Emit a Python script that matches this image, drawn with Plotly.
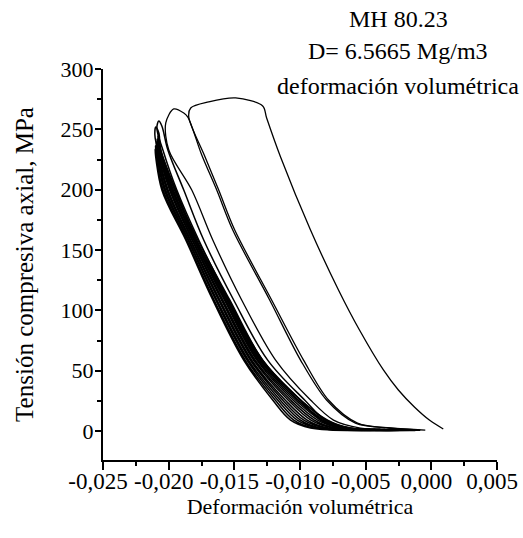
import plotly.graph_objects as go

# ---------------- data (volumetric strain, axial stress MPa) ----------------
x_tickvals = [-0.025, -0.020, -0.015, -0.010, -0.005, 0.000, 0.005]
x_ticktext = ["-0,025", "-0,020", "-0,015", "-0,010", "-0,005", "0,000", "0,005"]
y_tickvals = [0, 50, 100, 150, 200, 250, 300]
y_ticktext = ["0", "50", "100", "150", "200", "250", "300"]

# outermost cycle
loop_a_x = [-0.00046, -0.00312, -0.00562, -0.00783, -0.00973, -0.01216, -0.01497, -0.01619,
            -0.01729, -0.01847, -0.01832, -0.01695, -0.01490, -0.01284, -0.01254, -0.01148, -0.00920,
            -0.00707, -0.00547, -0.00365, -0.00251, -0.00129, -0.00015, 0.00091]
loop_a_y = [0.8, 2.5, 6.6, 25.7, 58.8, 108.6, 166.6, 199.7,
            228.7, 260.2, 267.7, 272.7, 276.0, 269.4, 259.4, 227.1, 166.6,
            116.9, 83.7, 50.6, 34.0, 19.9, 9.1, 1.7]

# second cycle
loop_b_x = [-0.00084, -0.00327, -0.00578, -0.00798, -0.00996, -0.01231, -0.01512, -0.01634,
            -0.01748, -0.01854, -0.01885, -0.01961, -0.02022, -0.01999, -0.01824, -0.01664,
            -0.01444, -0.01186, -0.00920, -0.00745, -0.00540, -0.00274, -0.00084]
loop_b_y = [0.8, 2.5, 6.6, 25.7, 58.8, 108.6, 166.6, 199.7,
            228.7, 260.2, 263.6, 266.9, 255.3, 232.9, 199.7, 158.3,
            108.6, 58.8, 25.7, 9.1, 2.5, 1.0, 0.5]

# third cycle
loop_c_x = [-0.00388, -0.00616, -0.00806, -0.00965, -0.01246, -0.01505, -0.01733, -0.01885,
            -0.02006, -0.02052, -0.02075, -0.02090, -0.02044, -0.01938, -0.01771, -0.01543,
            -0.01284, -0.00996, -0.00844, -0.00654, -0.00122]
loop_c_y = [1.2, 2.5, 9.1, 25.7, 58.8, 108.6, 158.3, 199.7,
            232.9, 252.8, 256.9, 251.1, 232.9, 199.7, 158.3, 108.6,
            58.8, 25.7, 9.1, 2.5, 0.5]

# fourth cycle
loop_d_x = [-0.00464, -0.00631, -0.00798, -0.00996, -0.01284, -0.01535, -0.01778, -0.01953,
            -0.02060, -0.02075, -0.02098, -0.02105, -0.02082, -0.01976, -0.01794, -0.01558,
            -0.01307, -0.01018, -0.00828, -0.00661, -0.00236]
loop_d_y = [1.5, 2.5, 9.1, 25.7, 58.8, 108.6, 158.3, 199.7,
            232.9, 247.0, 252.0, 245.3, 232.9, 199.7, 158.3, 108.6,
            58.8, 25.7, 9.1, 2.5, 0.6]

# later cycles (dense band)
band1_x = [-0.00502, -0.00892, -0.01047, -0.01189, -0.01417, -0.01654, -0.01862, -0.02042,
           -0.02104, -0.02052, -0.01870, -0.01664, -0.01429, -0.01208, -0.01072, -0.00920, -0.00448]
band1_y = [1.5, 2.5, 9.1, 25.7, 58.8, 108.6, 158.3, 199.7,
           233.5, 199.7, 158.3, 108.6, 58.8, 25.7, 9.1, 2.5, 0.6]

band2_x = [-0.00464, -0.00838, -0.00996, -0.01151, -0.01392, -0.01632, -0.01847, -0.02023, -0.02093,
           -0.02100, -0.02097, -0.02033, -0.01854, -0.01642, -0.01404, -0.01170, -0.01021, -0.00865, -0.00388]
band2_y = [1.5, 2.5, 9.1, 25.7, 58.8, 108.6, 158.3, 199.7, 232.9,
           236.5, 232.9, 199.7, 158.3, 108.6, 58.8, 25.7, 9.1, 2.5, 0.6]

band3_x = [-0.00426, -0.00783, -0.00945, -0.01113, -0.01367, -0.01610, -0.01832, -0.02004, -0.02085,
           -0.02094, -0.02088, -0.02014, -0.01839, -0.01620, -0.01379, -0.01132, -0.00971, -0.00810, -0.00350]
band3_y = [1.5, 2.5, 9.1, 25.7, 58.8, 108.6, 158.3, 199.7, 232.9,
           239.5, 232.9, 199.7, 158.3, 108.6, 58.8, 25.7, 9.1, 2.5, 0.6]

band4_x = [-0.00388, -0.00725, -0.00891, -0.01072, -0.01341, -0.01587, -0.01816, -0.01983, -0.02076,
           -0.02088, -0.02080, -0.01993, -0.01823, -0.01598, -0.01354, -0.01091, -0.00917, -0.00752, -0.00274]
band4_y = [1.5, 2.5, 9.1, 25.7, 58.8, 108.6, 158.3, 199.7, 232.9,
           242.0, 232.9, 199.7, 158.3, 108.6, 58.8, 25.7, 9.1, 2.5, 0.6]

band5_x = [-0.00350, -0.00670, -0.00841, -0.01034, -0.01316, -0.01565, -0.01801, -0.01964, -0.02068,
           -0.02082, -0.02072, -0.01974, -0.01809, -0.01576, -0.01329, -0.01053, -0.00866, -0.00698, -0.00236]
band5_y = [1.5, 2.5, 9.1, 25.7, 58.8, 108.6, 158.3, 199.7, 232.9,
           244.5, 232.9, 199.7, 158.3, 108.6, 58.8, 25.7, 9.1, 2.5, 0.6]

band6_x = [-0.00274, -0.00616, -0.00790, -0.00996, -0.01292, -0.01543, -0.01786, -0.01945, -0.02060,
           -0.02078, -0.02063, -0.01955, -0.01794, -0.01553, -0.01304, -0.01015, -0.00815, -0.00643, -0.00160]
band6_y = [1.5, 2.5, 9.1, 25.7, 58.8, 108.6, 158.3, 199.7, 232.9,
           247.0, 232.9, 199.7, 158.3, 108.6, 58.8, 25.7, 9.1, 2.5, 0.6]

outer_loops = [(loop_a_x, loop_a_y), (loop_b_x, loop_b_y)]
inner_loops = [
    (loop_c_x, loop_c_y), (loop_d_x, loop_d_y),
    (band1_x, band1_y), (band2_x, band2_y), (band3_x, band3_y),
    (band4_x, band4_y), (band5_x, band5_y), (band6_x, band6_y),
]

FONT = "Liberation Serif, Times New Roman, serif"

fig = go.Figure()
for lx, ly in outer_loops:
    fig.add_trace(go.Scatter(
        x=lx, y=ly, mode="lines",
        line=dict(color="black", width=1.3, shape="spline", smoothing=0.9),
        showlegend=False, hoverinfo="skip",
    ))
for lx, ly in inner_loops:
    fig.add_trace(go.Scatter(
        x=lx, y=ly, mode="lines",
        line=dict(color="black", width=1.5, shape="spline", smoothing=1.0),
        showlegend=False, hoverinfo="skip",
    ))

fig.update_layout(
    width=523, height=538,
    margin=dict(l=103, r=26, t=69, b=78, autoexpand=False),
    paper_bgcolor="white", plot_bgcolor="white",
    font=dict(family=FONT, color="black", size=22),
    showlegend=False,
)

fig.update_xaxes(
    range=[-0.025, 0.005], tickmode="array", tickvals=x_tickvals, ticktext=x_ticktext,
    tickangle=0, ticks="outside", ticklen=8, tickwidth=1.5, tickcolor="black",
    ticklabelstandoff=-9, ticklabelshift=-5,
    showline=True, linewidth=2, linecolor="black", mirror=False,
    showgrid=False, zeroline=False,
    minor=dict(ticks="outside", ticklen=4, tickwidth=1.5, tickcolor="black",
               tick0=-0.025, dtick=0.0025, showgrid=False),
    tickfont=dict(family=FONT, size=23, color="black"),
    title=dict(text="Deformación volumétrica", font=dict(family=FONT, size=22, color="black"),
               standoff=0),
    automargin=False,
)

fig.update_yaxes(
    range=[-24, 300], tickmode="array", tickvals=y_tickvals, ticktext=y_ticktext,
    ticks="outside", ticklen=6, tickwidth=1.5, tickcolor="black",
    ticklabelstandoff=-3,
    showline=True, linewidth=2, linecolor="black", mirror=False,
    showgrid=False, zeroline=False,
    minor=dict(ticks="outside", ticklen=4, tickwidth=1.5, tickcolor="black",
               tick0=0, dtick=25, showgrid=False),
    tickfont=dict(family=FONT, size=22, color="black"),
    title=dict(text="Tensión compresiva axial, MPa", font=dict(family=FONT, size=25, color="black"),
               standoff=20),
    automargin=False,
)

for txt, yy in [("MH 80.23", 1.128), ("D= 6.5665 Mg/m3", 1.045), ("deformación volumétrica", 0.957)]:
    fig.add_annotation(text=txt, xref="paper", yref="paper", x=0.749, y=yy,
                       xanchor="center", yanchor="middle", showarrow=False,
                       font=dict(family=FONT, size=24, color="black"))

fig.write_html("out.html")
